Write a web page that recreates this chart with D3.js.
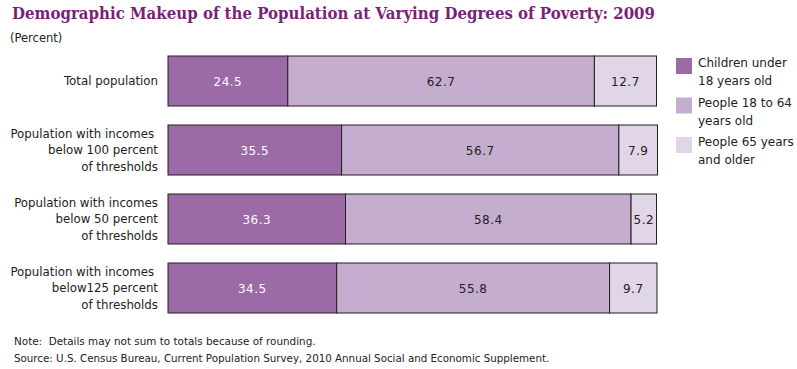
<!doctype html>
<html lang="en">
<head>
    <meta charset="UTF-8">
    <script src="https://cdnjs.cloudflare.com/ajax/libs/d3/7.0.0/d3.min.js"></script>
    <title>Demographic Makeup</title>
    <style>
        body { margin: 0; background: #fff; }
    </style>
</head>
<body>
<div id="Area"></div>
<script>
    // data
    const categories = ["Total population",
        "Population with incomes |below 100 percent|of thresholds",
        "Population with incomes|below 50 percent|of thresholds",
        "Population with incomes |below125 percent|of thresholds"];
    const seriesNames = ["Children under|18 years old", "People 18 to 64|years old", "People 65 years|and older"];
    const children = [24.5, 35.5, 36.3, 34.5];
    const adults = [62.7, 56.7, 58.4, 55.8];
    const elderly = [12.7, 7.9, 5.2, 9.7];
    const colors = ["#9c6aa6", "#c5adcf", "#e0d6e8"];

    const width = 797, height = 369;
    const font = "'DejaVu Sans', Verdana, sans-serif";

    const svg = d3.select("#Area")
        .append("svg")
        .attr("width", width)
        .attr("height", height)
        .style("font-family", font);

    const x = d3.scaleLinear().domain([0, 100]).range([168, 657]);
    // 50px bars, 69px step
    const y = d3.scaleBand().domain(d3.range(categories.length)).range([56, 313]).paddingInner(19 / 69).paddingOuter(0);

    // title
    svg.append("text")
        .attr("x", 12).attr("y", 19)
        .attr("fill", "#7a1f7a")
        .attr("textLength", 643)
        .attr("lengthAdjust", "spacingAndGlyphs")
        .style("font-family", "'DejaVu Serif', Georgia, serif")
        .style("font-weight", "bold")
        .style("font-size", "16.5px")
        .text("Demographic Makeup of the Population at Varying Degrees of Poverty: 2009");

    svg.append("text")
        .attr("x", 10).attr("y", 42)
        .attr("fill", "#222")
        .style("font-size", "11.5px")
        .text("(Percent)");

    const rows = categories.map((c, i) => {
        const vals = [children[i], adults[i], elderly[i]];
        let acc = 0;
        return vals.map((v, j) => {
            const seg = {row: i, series: j, value: v, x0: acc, x1: acc + v};
            acc += v;
            return seg;
        });
    }).flat();

    svg.selectAll("rect.seg")
        .data(rows)
        .join("rect")
        .attr("class", "seg")
        .attr("x", d => x(d.x0))
        .attr("y", d => y(d.row))
        .attr("width", d => x(d.x1) - x(d.x0))
        .attr("height", y.bandwidth())
        .attr("fill", d => colors[d.series])
        .attr("stroke", "#231f20")
        .attr("stroke-width", 1);

    svg.selectAll("text.val")
        .data(rows)
        .join("text")
        .attr("class", "val")
        .attr("x", d => (x(d.x0) + x(d.x1)) / 2)
        .attr("y", d => y(d.row) + y.bandwidth() / 2 + 4.5)
        .attr("text-anchor", "middle")
        .attr("fill", d => d.series === 0 ? "#fff" : "#222")
        .style("font-size", "12px")
        .style("letter-spacing", "0.5px")
        .text(d => d3.format(".1f")(d.value));

    // category labels
    categories.forEach((c, i) => {
        const lines = c.split("|");
        const lh = 16.5;
        const cy = y(i) + y.bandwidth() / 2;
        const t = svg.append("text")
            .attr("text-anchor", "end")
            .attr("fill", "#222")
            .style("font-size", "11.8px")
            .style("white-space", "pre");
        lines.forEach((l, k) => {
            t.append("tspan")
                .attr("x", 158)
                .attr("y", cy + 4 + (k - (lines.length - 1) / 2) * lh)
                .text(l);
        });
    });

    // legend
    seriesNames.forEach((s, i) => {
        const ly = 58 + i * 39.5;
        svg.append("rect")
            .attr("x", 676).attr("y", ly)
            .attr("width", 16).attr("height", 16)
            .attr("fill", colors[i]);
        const t = svg.append("text")
            .attr("fill", "#222")
            .style("font-size", "12px");
        s.split("|").forEach((l, k) => {
            t.append("tspan")
                .attr("x", 698)
                .attr("y", ly + 9 + k * 18)
                .text(l);
        });
    });

    // notes
    svg.append("text")
        .attr("x", 14).attr("y", 345)
        .attr("fill", "#222")
        .style("font-size", "10.4px")
        .style("white-space", "pre")
        .text("Note:  Details may not sum to totals because of rounding.");
    svg.append("text")
        .attr("x", 14).attr("y", 362)
        .attr("fill", "#222")
        .style("font-size", "10.3px")
        .text("Source: U.S. Census Bureau, Current Population Survey, 2010 Annual Social and Economic Supplement.");
</script>
</body>
</html>
